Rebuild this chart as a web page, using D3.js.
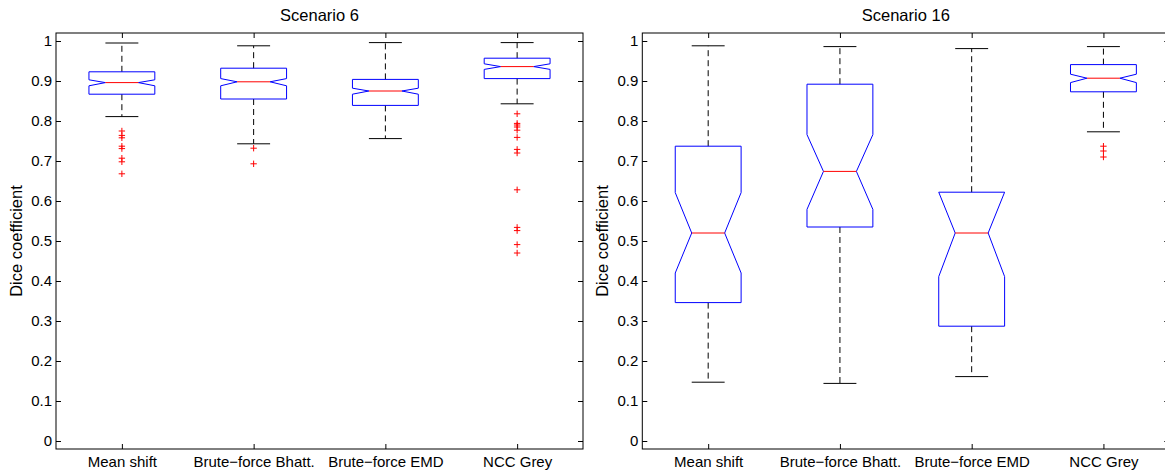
<!DOCTYPE html>
<html>
<head>
<meta charset="utf-8">
<script src="https://cdn.jsdelivr.net/npm/d3@7/dist/d3.min.js"></script>
<style>
  html, body { margin: 0; padding: 0; background: #fff; }
  svg { display: block; }
  text { font-family: "Liberation Sans", Arial, Helvetica, sans-serif; fill: #000; }
</style>
</head>
<body>
<svg id="chart" width="1165" height="475"></svg>
<script>
// Method names shared by both panels
const categories = ["Mean shift", "Brute\u2212force Bhatt.", "Brute\u2212force EMD", "NCC Grey"];
const yTicks = [0, 0.1, 0.2, 0.3, 0.4, 0.5, 0.6, 0.7, 0.8, 0.9, 1];
const yTickLabels = ["0", "0.1", "0.2", "0.3", "0.4", "0.5", "0.6", "0.7", "0.8", "0.9", "1"];

// Scenario 6 box statistics (one entry per method)
const s6Upper    = [0.995, 0.988, 0.996, 0.996];
const s6Q3       = [0.923, 0.932, 0.904, 0.957];
const s6NotchHi  = [0.903, 0.906, 0.882, 0.943];
const s6Median   = [0.896, 0.898, 0.875, 0.936];
const s6NotchLo  = [0.888, 0.888, 0.867, 0.929];
const s6Q1       = [0.867, 0.855, 0.839, 0.906];
const s6Lower    = [0.811, 0.743, 0.756, 0.843];
const s6Outliers = [
  [0.775, 0.764, 0.758, 0.737, 0.731, 0.707, 0.698, 0.668],
  [0.732, 0.693],
  [],
  [0.818, 0.794, 0.790, 0.785, 0.777, 0.759, 0.729, 0.720, 0.628, 0.534, 0.526, 0.491, 0.470]
];

// Scenario 16 box statistics
const s16Upper    = [0.988, 0.986, 0.981, 0.986];
const s16Q3       = [0.737, 0.892, 0.622, 0.941];
const s16NotchHi  = [0.621, 0.766, 0.622, 0.917];
const s16Median   = [0.520, 0.674, 0.520, 0.907];
const s16NotchLo  = [0.420, 0.579, 0.411, 0.896];
const s16Q1       = [0.346, 0.535, 0.287, 0.873];
const s16Lower    = [0.147, 0.144, 0.161, 0.773];
const s16Outliers = [[], [], [], [0.737, 0.725, 0.710]];

function buildStats(upper, q3, nHi, med, nLo, q1, lower, outl) {
  return categories.map((c, i) => ({
    name: c, pos: i + 1,
    upper: upper[i], q3: q3[i], notchHi: nHi[i], median: med[i],
    notchLo: nLo[i], q1: q1[i], lower: lower[i], outliers: outl[i]
  }));
}

const panels = [
  { title: "Scenario 6", left: 56, stats: buildStats(s6Upper, s6Q3, s6NotchHi, s6Median, s6NotchLo, s6Q1, s6Lower, s6Outliers) },
  { title: "Scenario 16", left: 642.3, stats: buildStats(s16Upper, s16Q3, s16NotchHi, s16Median, s16NotchLo, s16Q1, s16Lower, s16Outliers) }
];

const svg = d3.select("#chart");
const plotW = 527, plotTop = 33, plotBottom = 449;
const tickLen = 5;
const boxHalf = 0.25, notchHalf = 0.125, capHalf = 0.125;

panels.forEach(p => {
  const x = d3.scaleLinear().domain([0.5, 4.5]).range([p.left, p.left + plotW]);
  const y = d3.scaleLinear().domain([-0.02, 1.02]).range([plotBottom, plotTop]);
  const g = svg.append("g");

  // Axes: inward ticks on all four sides
  const axL = d3.axisLeft(y).tickValues(yTicks).tickFormat((d, i) => yTickLabels[i])
    .tickSizeInner(-tickLen).tickSizeOuter(0).tickPadding(4);
  const axR = d3.axisRight(y).tickValues(yTicks).tickFormat("")
    .tickSizeInner(-tickLen).tickSizeOuter(0);
  const axB = d3.axisBottom(x).tickValues([1, 2, 3, 4]).tickFormat((d, i) => categories[i])
    .tickSizeInner(-tickLen).tickSizeOuter(0).tickPadding(7);
  const axT = d3.axisTop(x).tickValues([1, 2, 3, 4]).tickFormat("")
    .tickSizeInner(-tickLen).tickSizeOuter(0);

  [[axL, `translate(${p.left},0)`], [axR, `translate(${p.left + plotW},0)`],
   [axB, `translate(0,${plotBottom})`], [axT, `translate(0,${plotTop})`]].forEach(([ax, tr]) => {
    const a = g.append("g").attr("transform", tr).call(ax);
    a.select(".domain").remove();
    a.selectAll("line").attr("stroke", "#000");
    a.selectAll("text").attr("font-size", "15px")
      .attr("font-family", '"Liberation Sans", Arial, sans-serif').attr("fill", "#000");
  });

  // Frame
  g.append("rect").attr("x", p.left).attr("y", plotTop)
    .attr("width", plotW).attr("height", plotBottom - plotTop)
    .attr("fill", "none").attr("stroke", "#000").attr("stroke-width", 1);

  // Title and y label
  g.append("text").attr("x", p.left + plotW / 2).attr("y", 21)
    .attr("text-anchor", "middle").attr("font-size", "16.5px").text(p.title);
  g.append("text")
    .attr("transform", `translate(${p.left - 34},${(plotTop + plotBottom) / 2}) rotate(-90)`)
    .attr("text-anchor", "middle").attr("font-size", "16.5px").text("Dice coefficient");

  const boxes = g.selectAll("g.box").data(p.stats).join("g").attr("class", "box");

  // Dashed whiskers
  boxes.append("line")
    .attr("x1", d => x(d.pos)).attr("x2", d => x(d.pos))
    .attr("y1", d => y(d.q3)).attr("y2", d => y(d.upper))
    .attr("stroke", "#000").attr("stroke-dasharray", "6,4");
  boxes.append("line")
    .attr("x1", d => x(d.pos)).attr("x2", d => x(d.pos))
    .attr("y1", d => y(d.q1)).attr("y2", d => y(d.lower))
    .attr("stroke", "#000").attr("stroke-dasharray", "6,4");

  // Whisker caps
  boxes.append("line")
    .attr("x1", d => x(d.pos - capHalf)).attr("x2", d => x(d.pos + capHalf))
    .attr("y1", d => y(d.upper)).attr("y2", d => y(d.upper)).attr("stroke", "#000");
  boxes.append("line")
    .attr("x1", d => x(d.pos - capHalf)).attr("x2", d => x(d.pos + capHalf))
    .attr("y1", d => y(d.lower)).attr("y2", d => y(d.lower)).attr("stroke", "#000");

  // Notched boxes
  boxes.append("path")
    .attr("d", d => {
      const l = x(d.pos - boxHalf), r = x(d.pos + boxHalf);
      const li = x(d.pos - notchHalf), ri = x(d.pos + notchHalf);
      const pts = [
        [l, y(d.q3)], [r, y(d.q3)], [r, y(d.notchHi)], [ri, y(d.median)],
        [r, y(d.notchLo)], [r, y(d.q1)], [l, y(d.q1)], [l, y(d.notchLo)],
        [li, y(d.median)], [l, y(d.notchHi)]
      ];
      return d3.line()(pts) + "Z";
    })
    .attr("fill", "none").attr("stroke", "#0000ff").attr("stroke-width", 1);

  // Medians
  boxes.append("line")
    .attr("x1", d => x(d.pos - notchHalf)).attr("x2", d => x(d.pos + notchHalf))
    .attr("y1", d => y(d.median)).attr("y2", d => y(d.median))
    .attr("stroke", "#ff0000");

  // Outliers as red plus signs
  boxes.each(function (d) {
    d3.select(this).selectAll("path.out").data(d.outliers).join("path")
      .attr("class", "out")
      .attr("d", v => {
        const cx = x(d.pos), cy = y(v), a = 3.2;
        return `M${cx - a},${cy}H${cx + a}M${cx},${cy - a}V${cy + a}`;
      })
      .attr("stroke", "#ff0000").attr("fill", "none");
  });
});
</script>
</body>
</html>
